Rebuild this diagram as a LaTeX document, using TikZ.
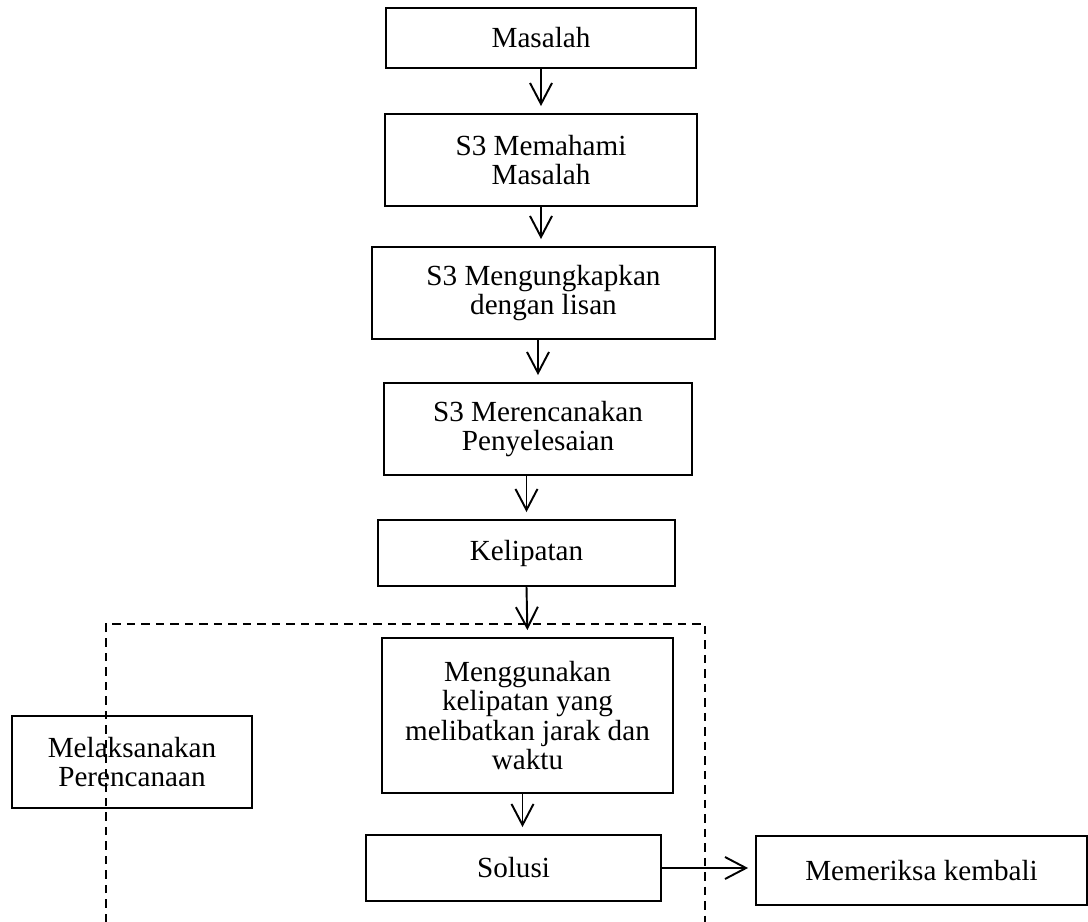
\documentclass[tikz,border=0pt]{standalone}
\usepackage{fontspec}
\setmainfont{Liberation Serif}
\usetikzlibrary{arrows.meta}
\newcommand\boxfont{\fontsize{16.6}{16.6}\selectfont}

\begin{document}
\begin{tikzpicture}[
        x=0.02cm, y=-0.02cm,
        box/.style={rectangle, draw, line width=1.1pt, inner sep=0pt, align=center, font=\boxfont},
        arrow/.style={-{Straight Barb[length=0.42cm, width=0.44cm, line width=1.1pt]}, line width=1.1pt, shorten >=0.14cm},
        frame/.style={dashed, line width=1.1pt, dash pattern=on 0.17cm off 0.12cm}
    ]
        \useasboundingbox (0,0) rectangle (1088,922);

        % Main vertical flow
        \node[box, minimum width=6.2cm, minimum height=1.2cm] (masalah) at (541, 38) {Masalah};
        \node[box, minimum width=6.24cm, minimum height=1.84cm] (memahami) at (541, 160) {S3 Memahami\\Masalah};
        \node[box, minimum width=6.86cm, minimum height=1.84cm] (ungkap) at (543.5, 293) {S3 Mengungkapkan\\dengan lisan};
        \node[box, minimum width=6.16cm, minimum height=1.84cm] (rencana) at (538, 429) {S3 Merencanakan\\Penyelesaian};
        \node[box, minimum width=5.94cm, minimum height=1.32cm] (kelipatan) at (526.5, 553) {Kelipatan};
        \node[box, minimum width=5.82cm, minimum height=3.1cm] (gunakan) at (527.5, 715.5) {Menggunakan\\kelipatan yang\\melibatkan jarak dan\\waktu};
        \node[box, minimum width=5.9cm, minimum height=1.32cm] (solusi) at (513.5, 868) {Solusi};

        % Side boxes
        \node[box, minimum width=6.62cm, minimum height=1.38cm] (periksa) at (921.5, 870.5) {Memeriksa kembali};
        \node[box, minimum width=4.8cm, minimum height=1.84cm] (laksana) at (132, 762) {Melaksanakan\\Perencanaan};

        % Dashed frame round the execution step
        \coordinate (fbl) at (106, 922);
        \coordinate (ftl) at (106, 624);
        \coordinate (ftr) at (705, 624);
        \coordinate (fbr) at (705, 922);
        \draw[frame] (fbl) -- (ftl) -- (ftr) -- (fbr);

        % Arrows
        \draw[arrow] (masalah.south) -- (memahami.north);
        \draw[arrow] (memahami.south) -- (ungkap.north -| memahami.south);
        \draw[arrow] (rencana.north |- ungkap.south) -- (rencana.north);
        \draw[arrow] (kelipatan.north |- rencana.south) -- (kelipatan.north);
        \draw[arrow] (kelipatan.south) -- (gunakan.north);
        \draw[arrow] ([xshift=-0.1cm]gunakan.south) -- ([xshift=-0.1cm]gunakan.south |- solusi.north);
        \draw[arrow] (solusi.east) -- (solusi.east -| periksa.west);

    \end{tikzpicture}
\end{document}
